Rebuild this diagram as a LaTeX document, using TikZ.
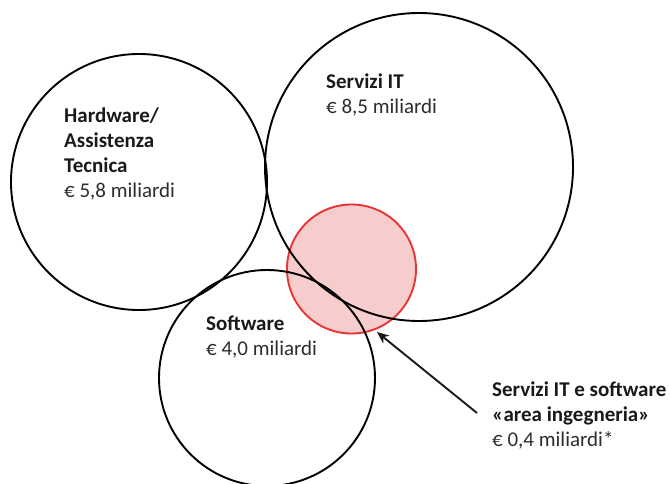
\documentclass[tikz,border=0pt]{standalone}
\usepackage{fontspec}
\setmainfont{Carlito}
\usetikzlibrary{arrows.meta}
\definecolor{ringred}{RGB}{232,52,52}
\definecolor{ringfill}{RGB}{247,204,204}
\definecolor{inkdark}{RGB}{25,25,25}
\definecolor{inkmid}{RGB}{45,45,45}
\tikzset{
  ring/.style={circle, draw=black, line width=1.9pt, inner sep=0pt, minimum size=#1},
  overlap/.style={circle, draw=ringred, fill=ringfill, line width=1.9pt, inner sep=0pt, minimum size=#1},
  lbl/.style={anchor=north west, align=left, inner sep=0pt, text=inkdark,
    font=\fontsize{21}{25}\selectfont},
  pointer/.style={-{Stealth[length=12pt,width=10pt]}, line width=1.9pt, draw=inkdark}
}
\begin{document}
\begin{tikzpicture}[x=1pt,y=-1pt]
  \useasboundingbox (0,0) rectangle (670,484);
  % shared area, drawn first so the rings lie on top of it
  \node[overlap=129pt] (inter) at (351.5,269) {};
  % the three market rings
  \node[ring=256pt] (hw) at (139,182) {};
  \node[ring=308pt] (it) at (419,167) {};
  \node[ring=216pt] (sw) at (267,378) {};
  % labels
  \node[lbl] (hwtxt) at (64,107.5) {\textbf{Hardware/}\\\textbf{Assistenza}\\\textbf{Tecnica}\\{\color{inkmid}€ 5,8 miliardi}};
  \node[lbl] (ittxt) at (326,73.5) {\textbf{Servizi IT}\\{\color{inkmid}€ 8,5 miliardi}};
  \node[lbl] (swtxt) at (206,316) {\textbf{Software}\\{\color{inkmid}€ 4,0 miliardi}};
  \node[lbl] (ingtxt) at (492,382) {\textbf{Servizi IT e software}\\\textbf{«area ingegneria»}\\{\color{inkmid}€ 0,4 miliardi*}};
  % pointer to the shared area
  \coordinate (tail) at (477,413);
  \coordinate (tip) at (377,332);
  \draw[pointer] (tail) -- (tip);
\end{tikzpicture}
\end{document}
